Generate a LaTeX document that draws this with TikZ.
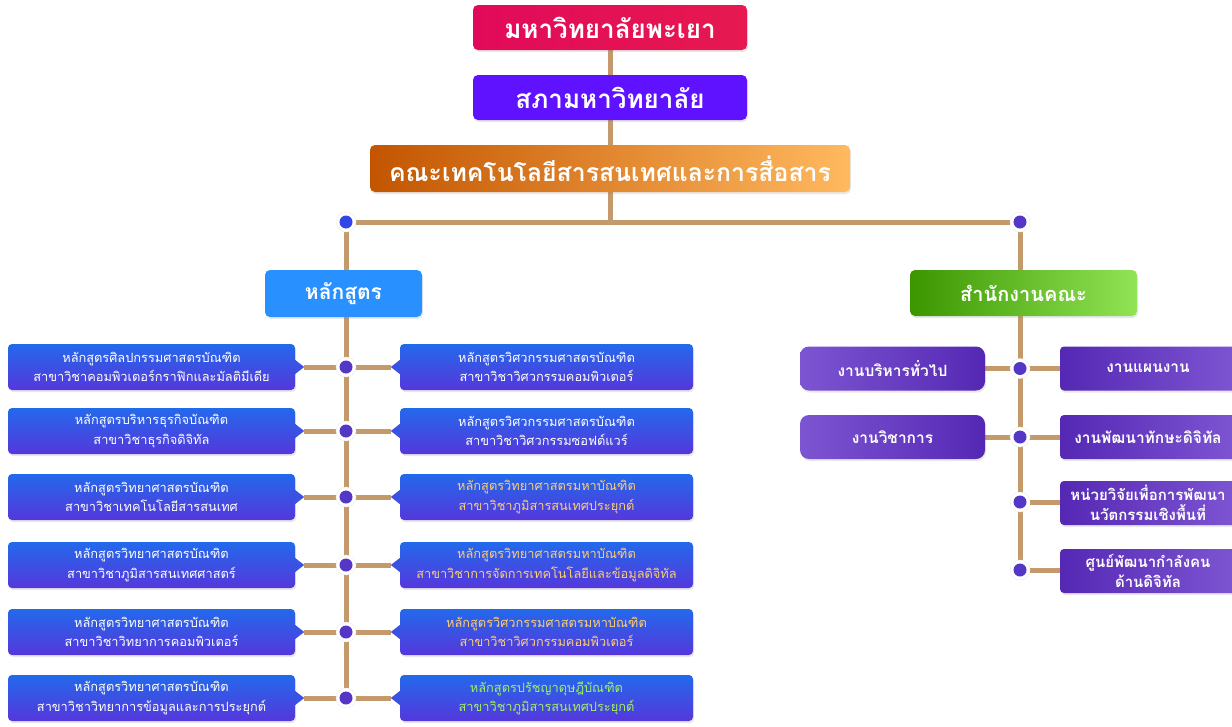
\documentclass[tikz,border=0pt]{standalone}
\usepackage{fontspec}
\newfontfamily\thai[Script=Thai]{Loma}
\usetikzlibrary{shadows,backgrounds}
\definecolor{tanc}{RGB}{196,154,108}
\definecolor{progtop}{RGB}{35,105,235}
\definecolor{progbot}{RGB}{85,55,220}
\definecolor{progmid}{RGB}{58,82,228}
\definecolor{dotc}{RGB}{85,55,200}
\definecolor{dotb}{RGB}{50,70,230}
\definecolor{yel}{RGB}{255,205,115}
\definecolor{grn}{RGB}{160,240,100}
\definecolor{offa}{RGB}{125,85,210}
\definecolor{offb}{RGB}{85,40,180}
\begin{document}
\begin{tikzpicture}[x=1pt,y=-1pt,
  conn/.style={draw=tanc, line width=5pt},
  sh/.style={drop shadow={opacity=0.18, shadow xshift=1pt, shadow yshift=-2pt}},
  titlebox/.style={sh, rounded corners=5pt, text=white, inner sep=0pt,
     font=\thai\bfseries\fontsize{26}{30}\selectfont},
  prog/.style={sh, rounded corners=4pt, top color=progtop, bottom color=progbot,
     minimum height=46pt, text=white, align=center, inner sep=1pt,
     font=\thai\fontsize{12.8}{19.5}\selectfont},
  offbox/.style={sh, rounded corners=6pt, text=white, align=center, inner sep=1pt,
     minimum height=44pt, font=\thai\bfseries\fontsize{15.5}{19}\selectfont},
  dot/.style={circle, fill=white, draw=black!8, minimum size=20pt, inner sep=0pt,
     path picture={\fill[#1] (path picture bounding box.center) circle (6.5pt);}},
  dot/.default=dotc]
\useasboundingbox (0,0) rectangle (1232,726);

% title boxes
\node[titlebox, left color={rgb,255:red,225;green,10;blue,90}, right color={rgb,255:red,230;green,25;blue,80},
  minimum width=274pt, minimum height=45pt] (uni) at (610,27.5) {มหาวิทยาลัยพะเยา};
\node[titlebox, fill={rgb,255:red,95;green,18;blue,255},
  minimum width=274pt, minimum height=45pt] (council) at (610,97.5) {สภามหาวิทยาลัย};
\node[titlebox, left color={rgb,255:red,195;green,85;blue,0}, right color={rgb,255:red,255;green,185;blue,95},
  minimum width=480pt, minimum height=47pt, font=\thai\bfseries\fontsize{24.8}{29}\selectfont] (faculty) at (610,168.5) {คณะเทคโนโลยีสารสนเทศและการสื่อสาร};

\node[dot=dotb] (jl) at (346,222) {};
\node[dot] (jr) at (1020,222) {};
\coordinate (jm) at (610,222);

\node[titlebox, fill={rgb,255:red,40;green,145;blue,255}, minimum width=157pt, minimum height=47pt,
  font=\thai\bfseries\fontsize{21}{24}\selectfont] (curr) at (343.5,293.5) {หลักสูตร};
\node[titlebox, left color={rgb,255:red,60;green,150;blue,0}, right color={rgb,255:red,145;green,228;blue,85},
  minimum width=227pt, minimum height=46pt, font=\thai\bfseries\fontsize{20}{24}\selectfont] (office) at (1023.5,293) {สำนักงานคณะ};

% programmes
\foreach \i/\y/\a/\b/\c/\d/\tc in {
  1/367/{หลักสูตรศิลปกรรมศาสตรบัณฑิต}/{สาขาวิชาคอมพิวเตอร์กราฟิกและมัลติมีเดีย}/{หลักสูตรวิศวกรรมศาสตรบัณฑิต}/{สาขาวิชาวิศวกรรมคอมพิวเตอร์}/white,
  2/431/{หลักสูตรบริหารธุรกิจบัณฑิต}/{สาขาวิชาธุรกิจดิจิทัล}/{หลักสูตรวิศวกรรมศาสตรบัณฑิต}/{สาขาวิชาวิศวกรรมซอฟต์แวร์}/white,
  3/497/{หลักสูตรวิทยาศาสตรบัณฑิต}/{สาขาวิชาเทคโนโลยีสารสนเทศ}/{หลักสูตรวิทยาศาสตรมหาบัณฑิต}/{สาขาวิชาภูมิสารสนเทศประยุกต์}/yel,
  4/565/{หลักสูตรวิทยาศาสตรบัณฑิต}/{สาขาวิชาภูมิสารสนเทศศาสตร์}/{หลักสูตรวิทยาศาสตรมหาบัณฑิต}/{สาขาวิชาการจัดการเทคโนโลยีและข้อมูลดิจิทัล}/yel,
  5/632/{หลักสูตรวิทยาศาสตรบัณฑิต}/{สาขาวิชาวิทยาการคอมพิวเตอร์}/{หลักสูตรวิศวกรรมศาสตรมหาบัณฑิต}/{สาขาวิชาวิศวกรรมคอมพิวเตอร์}/yel,
  6/698/{หลักสูตรวิทยาศาสตรบัณฑิต}/{สาขาวิชาวิทยาการข้อมูลและการประยุกต์}/{หลักสูตรปรัชญาดุษฎีบัณฑิต}/{สาขาวิชาภูมิสารสนเทศประยุกต์}/grn}{
  \node[prog, minimum width=287pt] (L\i) at (151.5,\y) {\a\\\b};
  \node[prog, minimum width=293pt, text=\tc] (R\i) at (546.5,\y) {\c\\\d};
  \fill[progmid] ([yshift=7pt]L\i.east) -- ([xshift=9pt]L\i.east) coordinate (LT\i) -- ([yshift=-7pt]L\i.east) -- cycle;
  \fill[progmid] ([yshift=7pt]R\i.west) -- ([xshift=-9pt]R\i.west) coordinate (RT\i) -- ([yshift=-7pt]R\i.west) -- cycle;
  \node[dot] (D\i) at (346,\y) {};
}

% office units
\node[offbox, left color=offa, right color=offb, minimum width=185pt, rounded corners=9pt] (gen) at (892.5,368.5) {งานบริหารทั่วไป};
\node[offbox, left color=offa, right color=offb, minimum width=185pt, rounded corners=9pt] (acad) at (892.5,437) {งานวิชาการ};
\node[offbox, left color=offb, right color=offa, minimum width=176pt, rounded corners=4pt] (plan) at (1148,368.5) {งานแผนงาน};
\node[offbox, left color=offb, right color=offa, minimum width=176pt, rounded corners=4pt] (skill) at (1148,437) {งานพัฒนาทักษะดิจิทัล};
\node[offbox, left color=offb, right color=offa, minimum width=176pt, rounded corners=4pt,
  font=\thai\bfseries\fontsize{15}{20}\selectfont] (res) at (1148,503) {หน่วยวิจัยเพื่อการพัฒนา\\นวัตกรรมเชิงพื้นที่};
\node[offbox, left color=offb, right color=offa, minimum width=176pt, rounded corners=4pt,
  font=\thai\bfseries\fontsize{15}{20}\selectfont] (dev) at (1148,571) {ศูนย์พัฒนากำลังคน\\ด้านดิจิทัล};
\node[dot] (O1) at (1020,368.5) {};
\node[dot] (O2) at (1020,437) {};
\node[dot] (O3) at (1020,502) {};
\node[dot] (O4) at (1020,570) {};

\begin{scope}[on background layer]
  \fill[white] (0,0) rectangle (1232,726);
  \draw[conn] (uni.center) -- (jm);
  \draw[conn] (jl) -- (jr);
  \draw[conn] (jl) -- (D6);
  \draw[conn] (jr) -- (O4);
  \foreach \i in {1,...,6} { \draw[conn] (LT\i) -- (RT\i); }
  \draw[conn] (gen.east) -- (plan.west);
  \draw[conn] (acad.east) -- (skill.west);
  \draw[conn] (O3) -- (O3 -| res.west);
  \draw[conn] (O4) -- (O4 -| dev.west);
\end{scope}
\end{tikzpicture}
\end{document}
